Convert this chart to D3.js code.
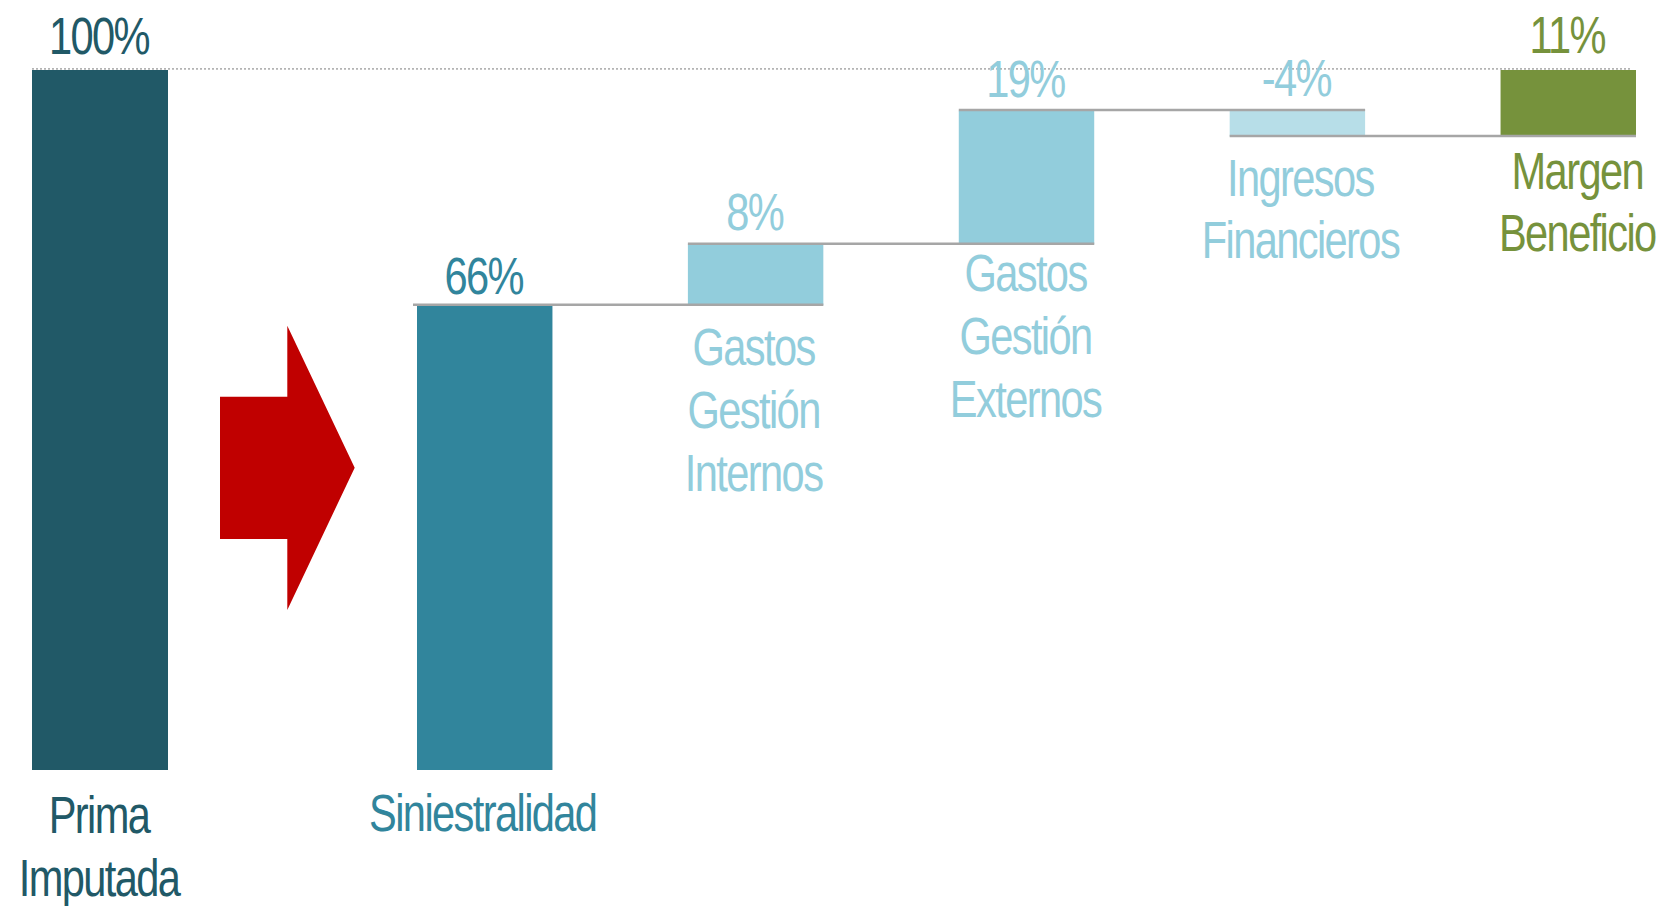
<!DOCTYPE html>
<html>
<head>
<meta charset="utf-8">
<script src="https://cdn.jsdelivr.net/npm/d3@7"></script>
<style>
  html, body { margin: 0; padding: 0; background: #ffffff; }
  svg { display: block; }
</style>
</head>
<body>
<script>
// ---------------- DATA ----------------
const categories = ["Prima Imputada", "Siniestralidad", "Gastos Gestión Internos",
                    "Gastos Gestión Externos", "Ingresos Financieros", "Margen Beneficio"];
const categoryLines = [["Prima", "Imputada"], ["Siniestralidad"], ["Gastos", "Gestión", "Internos"],
                       ["Gastos", "Gestión", "Externos"], ["Ingresos", "Financieros"], ["Margen", "Beneficio"]];
const totalValue = [100];                              // Prima Imputada (base bar)
const waterfallValues = [66.4, 8.7, 19.1, -3.7, 9.5];  // drawn step sizes
const valueLabels = ["100%", "66%", "8%", "19%", "-4%", "11%"];

// ---------------- STYLE / LAYOUT ----------------
const colors = ["#215967", "#31859C", "#92CDDC", "#92CDDC", "#B7DEE8", "#76923C"];
const textColors = ["#215967", "#31859C", "#92CDDC", "#92CDDC", "#92CDDC", "#76923C"];
const labelDy = [63, 61, 60, 47, 59, 52];    // baseline of first category line below bar bottom
const labelDx = [-1, -2, -2, -1, 3, 9];
const valueDy = [16, 11, 14, 14, 15, 17];    // value label baseline above bar top
const FONT = "'Liberation Sans', Arial, sans-serif";
const FS = 52, SX = 0.8, LH = 63, LS = -2;

const W = 1662, H = 906;
const svg = d3.select("body").append("svg").attr("width", W).attr("height", H);

const y = d3.scaleLinear().domain([0, 100]).range([770, 70]);
const xFirst = d3.scaleBand().domain([categories[0]]).range([32, 168]).padding(0);
const xMain = d3.scaleBand().domain(categories.slice(1)).range([417, 1636]).paddingInner(0.5).paddingOuter(0);

// waterfall cumulative
let run = 0;
const wf = waterfallValues.map((v, i) => {
  const start = run; run += v;
  return { cat: categories[i + 1], start, end: run, v, idx: i + 1 };
});
const bars = [{ cat: categories[0], start: 0, end: totalValue[0], idx: 0 }].concat(wf);
const xOf = d => d.idx === 0 ? xFirst(d.cat) : xMain(d.cat);
const bwOf = d => d.idx === 0 ? xFirst.bandwidth() : xMain.bandwidth();

// bars
svg.append("g").selectAll("rect").data(bars).join("rect")
  .attr("x", d => xOf(d))
  .attr("y", d => y(Math.max(d.start, d.end)))
  .attr("width", d => bwOf(d))
  .attr("height", d => Math.abs(y(d.start) - y(d.end)))
  .attr("fill", d => colors[d.idx]);

// connector lines: level at end of bar i, from bar i left to bar i+1 right
const conns = wf.slice(0, wf.length - 1).map((d, i) => ({ level: d.end, a: wf[i], b: wf[i + 1] }));
svg.append("g").selectAll("line").data(conns).join("line")
  .attr("x1", (d, i) => xMain(d.a.cat) - (i === 0 ? 4 : 0))
  .attr("x2", d => xMain(d.b.cat) + xMain.bandwidth())
  .attr("y1", d => y(d.level) - 0.5)
  .attr("y2", d => y(d.level) - 0.5)
  .attr("stroke", "#A6A6A6").attr("stroke-width", 2.5);

// dotted 100% reference line
svg.append("line")
  .attr("x1", xFirst(categories[0])).attr("x2", xMain(categories[5]) + xMain.bandwidth() - 6)
  .attr("y1", y(100) - 1.2).attr("y2", y(100) - 1.2)
  .attr("stroke", "#B4B4B4").attr("stroke-width", 1.8).attr("stroke-dasharray", "2 2");

// red arrow (decorative)
svg.append("path")
  .attr("d", "M220,396.7 H287.3 V325.7 L354.7,467.7 L287.3,610 V539 H220 Z")
  .attr("fill", "#C00000");

// value labels
svg.append("g").selectAll("text").data(bars).join("text")
  .attr("transform", d => `translate(${xOf(d) + bwOf(d) / 2 - 1},${y(Math.max(d.start, d.end)) - valueDy[d.idx]}) scale(${SX},1)`)
  .attr("text-anchor", "middle")
  .attr("font-family", FONT).attr("font-size", FS).attr("letter-spacing", LS)
  .attr("fill", d => textColors[d.idx])
  .text(d => valueLabels[d.idx]);

// category labels
const cl = svg.append("g").selectAll("text").data(bars).join("text")
  .attr("transform", d => `translate(${xOf(d) + bwOf(d) / 2 + labelDx[d.idx]},${y(Math.min(d.start, d.end)) + labelDy[d.idx]}) scale(${SX},1)`)
  .attr("text-anchor", "middle")
  .attr("font-family", FONT).attr("font-size", FS).attr("letter-spacing", LS)
  .attr("fill", d => textColors[d.idx]);
cl.selectAll("tspan").data(d => categoryLines[d.idx]).join("tspan")
  .attr("x", 0).attr("dy", (t, i) => i === 0 ? 0 : LH)
  .text(t => t);
</script>
</body>
</html>
